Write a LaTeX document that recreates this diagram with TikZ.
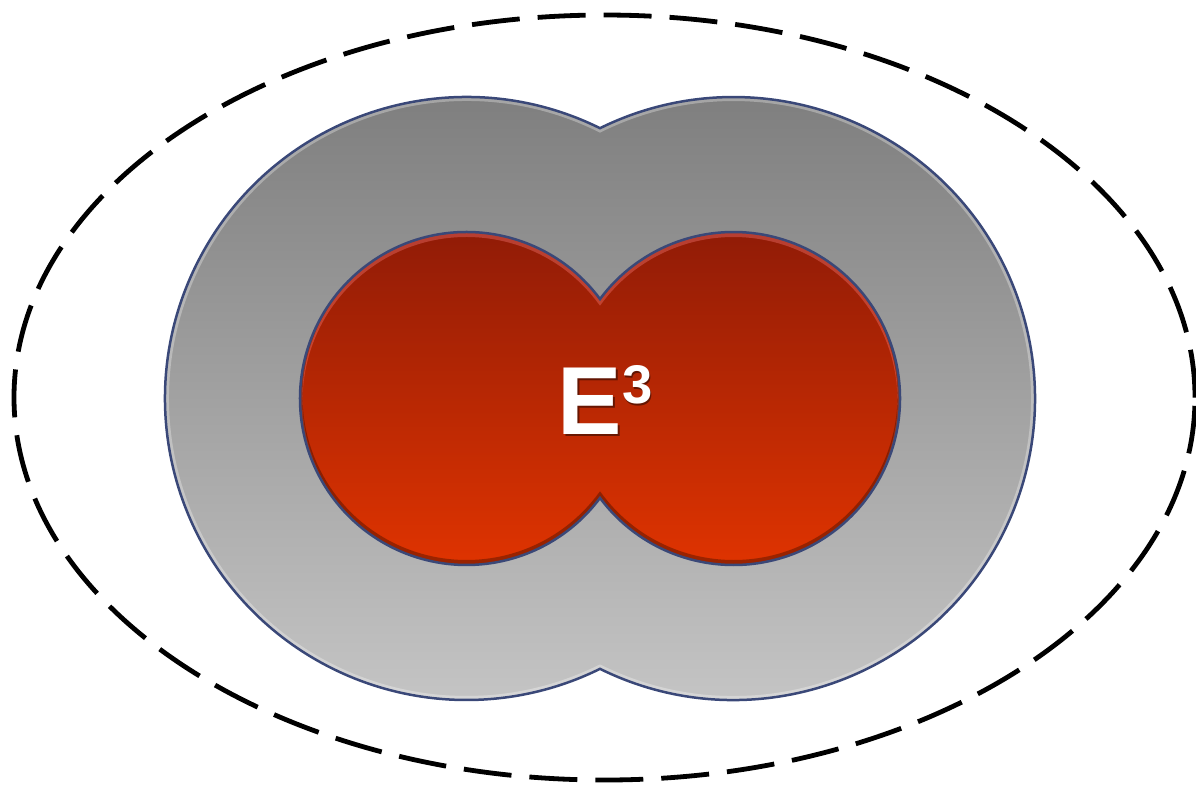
\documentclass[tikz,border=0pt]{standalone}
\usepackage{fontspec}
\setmainfont{Liberation Sans}
\usetikzlibrary{calc}

\definecolor{graytop}{HTML}{7A7A7A}
\definecolor{graybot}{HTML}{C9C9C9}
\definecolor{redtop}{HTML}{8C1A07}
\definecolor{redbot}{HTML}{E43500}
\definecolor{rimblue}{HTML}{3A4878}

\begin{document}
\begin{tikzpicture}[
	rim/.style={draw=rimblue, line width=0.025cm},
	dashring/.style={draw=black, line width=0.048cm, dash pattern=on 0.48cm off 0.18cm},
	emblem/.style={text=white, font=\fontsize{27.5}{30}\selectfont\bfseries, inner sep=0pt},
	grayshape/.style={insert path={(0,2.7033) arc[start angle=63.72, end angle=296.28, radius=3.015]
		arc[start angle=243.72, end angle=476.28, radius=3.015] -- cycle}},
	redshape/.style={insert path={(0,0.995) arc[start angle=36.69, end angle=323.31, radius=1.665]
		arc[start angle=216.69, end angle=503.31, radius=1.665] -- cycle}}
]
\useasboundingbox (-6.00,-3.855) rectangle (5.96,3.985);

% Centres
\coordinate (L) at (-1.335,0);
\coordinate (R) at (1.335,0);

% Outer dashed boundary
\draw[dashring] (0.045,0.01) ellipse [x radius=5.905, y radius=3.825];

% Gray body
\shade[top color=graytop, bottom color=graybot, grayshape];
\begin{scope}
	\clip[grayshape];
	\draw[line width=0.08cm, white, opacity=0.3, grayshape];
\end{scope}
\draw[rim, grayshape];

% Red core
\shade[top color=redtop, bottom color=redbot, redshape];
\begin{scope}
	\clip[redshape];
	\draw[line width=0.05cm, red!50!white, opacity=0.35, yshift=-0.025cm, redshape];
	\draw[line width=0.05cm, black, opacity=0.3, yshift=0.025cm, redshape];
\end{scope}
\draw[rim, redshape];

% Label
\node[emblem, text=black, opacity=0.45] (shadow) at (0.065,-0.03) {E\raisebox{8.8pt}{\fontsize{15.5}{17}\selectfont 3}};
\node[emblem] (core) at (0.05,-0.015) {E\raisebox{8.8pt}{\fontsize{15.5}{17}\selectfont 3}};

\end{tikzpicture}
\end{document}
